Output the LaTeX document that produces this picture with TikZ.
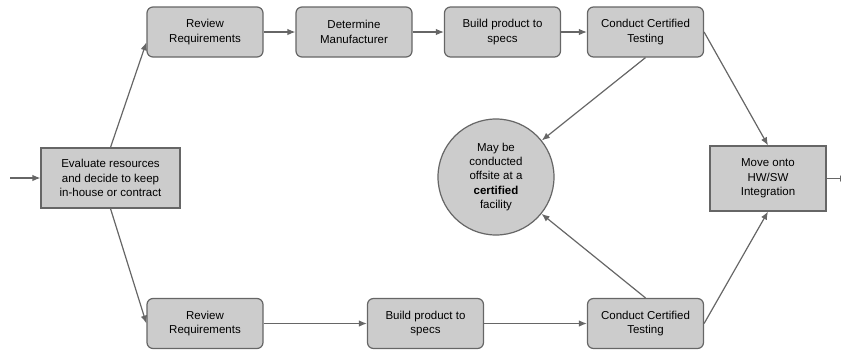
\documentclass[tikz,border=0pt]{standalone}
\usepackage{fontspec}
\setmainfont{Liberation Sans}
\usetikzlibrary{arrows.meta}
\definecolor{boxfill}{HTML}{CCCCCC}
\definecolor{boxline}{HTML}{666666}

\begin{document}
\begin{tikzpicture}[x=1pt, y=-1pt,
	every node/.style={draw=boxline, fill=boxfill, line width=1.2pt, align=center, inner sep=0pt, font=\fontsize{11.5}{14.3}\selectfont},
	squarebox/.style={rectangle, minimum width=116pt, minimum height=65pt},
	roundbox/.style={rectangle, rounded corners=6pt, minimum width=116pt, minimum height=50pt},
	flow/.style={draw=boxline, line width=1.2pt, -{Latex[length=8pt, width=6.5pt]}}]

				\useasboundingbox (0,0) rectangle (841,349);

				\node[squarebox, minimum width=139pt, minimum height=60pt] (evaluate) at (110.5,178) [] {Evaluate resources\\and decide to keep\\in-house or contract};
				\coordinate (start) at (10,178);
				\draw[flow] (start) -- (evaluate);

				% in-house
				\node[roundbox] (review) at (205,32) [] {Review\\Requirements};
				\node[roundbox] (manufacturer) at (354,32) [] {Determine\\Manufacturer};
				\node[roundbox] (build) at (502.5,32) [] {Build product to\\specs};
				\node[roundbox] (testing) at (645.5,32) [] {Conduct Certified\\Testing};
				\draw[flow] (evaluate.north) -- (review.190);
				\draw[flow] (review) -- (manufacturer);
				\draw[flow] (manufacturer) -- (build);
				\draw[flow] (build) -- (testing);

				% contract
				\node[roundbox] (review2) at (205,323.5) [] {Review\\Requirements};
				\node[roundbox] (build2) at (425.5,323.5) [] {Build product to\\specs};
				\node[roundbox] (testing2) at (645.5,323.5) [] {Conduct Certified\\Testing};
				\draw[flow] (evaluate.south) -- (review2.west);
				\draw[flow] (review2) -- (build2);
				\draw[flow] (build2) -- (testing2);

				\node[circle, minimum size=116pt] (facility) at (496,177) [] {May be\\conducted\\offsite at a\\\textbf{certified}\\facility};
				\draw[flow] (testing.south) -- (facility);
				\draw[flow] (testing2.north) -- (facility);

				\node[squarebox] (integration) at (768,178.5) [] {Move onto\\HW/SW\\Integration};
				\coordinate (finish) at (848,178.5);
				\draw[flow] (testing.east) -- (integration.north);
				\draw[flow] (testing2.east) -- (integration.south);
				\draw[flow] (integration) -- (finish);

			\end{tikzpicture}
\end{document}
